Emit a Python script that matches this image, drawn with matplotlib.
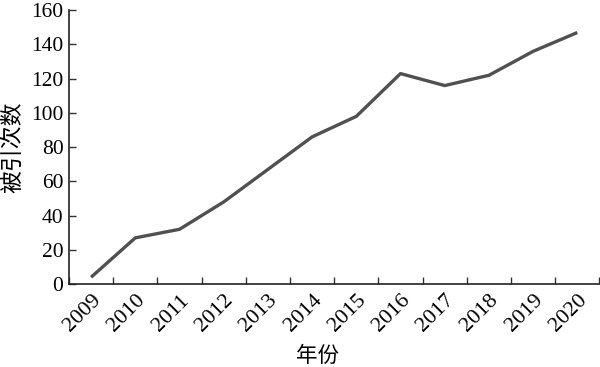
import matplotlib
matplotlib.use("Agg")
import matplotlib.pyplot as plt
import numpy as np

years = ["2009", "2010", "2011", "2012", "2013", "2014", "2015", "2016", "2017", "2018", "2019", "2020"]
citations = [4, 27, 32, 48, 67, 86, 98, 123, 116, 122, 136, 147]
y_ticks = [0, 20, 40, 60, 80, 100, 120, 140, 160]

plt.rcParams['font.family'] = ['Liberation Serif', 'Noto Sans CJK SC', 'DejaVu Sans']

fig = plt.figure(figsize=(6, 3.67), dpi=100)
ax = fig.add_axes([0.115, 0.226, 0.884, 0.746])

x = np.arange(len(years))
ax.plot(x, citations, color='#505050', linewidth=2.4, solid_capstyle='butt')

ax.set_xlim(-0.5, len(years) - 0.5)
ax.set_ylim(0, 160)
ax.set_yticks(y_ticks)
ax.set_yticklabels([str(v) for v in y_ticks], fontsize=15.5)

ax.set_xticks(x)
ax.set_xticklabels(years, fontsize=16, rotation=45, ha='right', va='top', rotation_mode='anchor')
ax.tick_params(axis='x', which='major', length=0, pad=5)
ax.set_xticks(np.arange(-0.5, len(years) + 0.5, 1), minor=True)
ax.tick_params(axis='x', which='minor', direction='in', length=5, width=1, color='#333333')
ax.tick_params(axis='y', direction='in', length=5, width=1, color='#333333', pad=4)

for s in ['top', 'right']:
    ax.spines[s].set_visible(False)
for s in ['left', 'bottom']:
    ax.spines[s].set_linewidth(1.2)
    ax.spines[s].set_color('#222222')

ax.set_ylabel('被引次数', family=['Noto Sans CJK SC'], fontsize=16.5)
ax.yaxis.set_label_coords(-0.084, 0.5)
ax.set_xlabel('年份', family=['Noto Sans CJK SC'], fontsize=15.5)
ax.xaxis.set_label_coords(0.468, -0.222)

fig.savefig('out.png', dpi=100)
